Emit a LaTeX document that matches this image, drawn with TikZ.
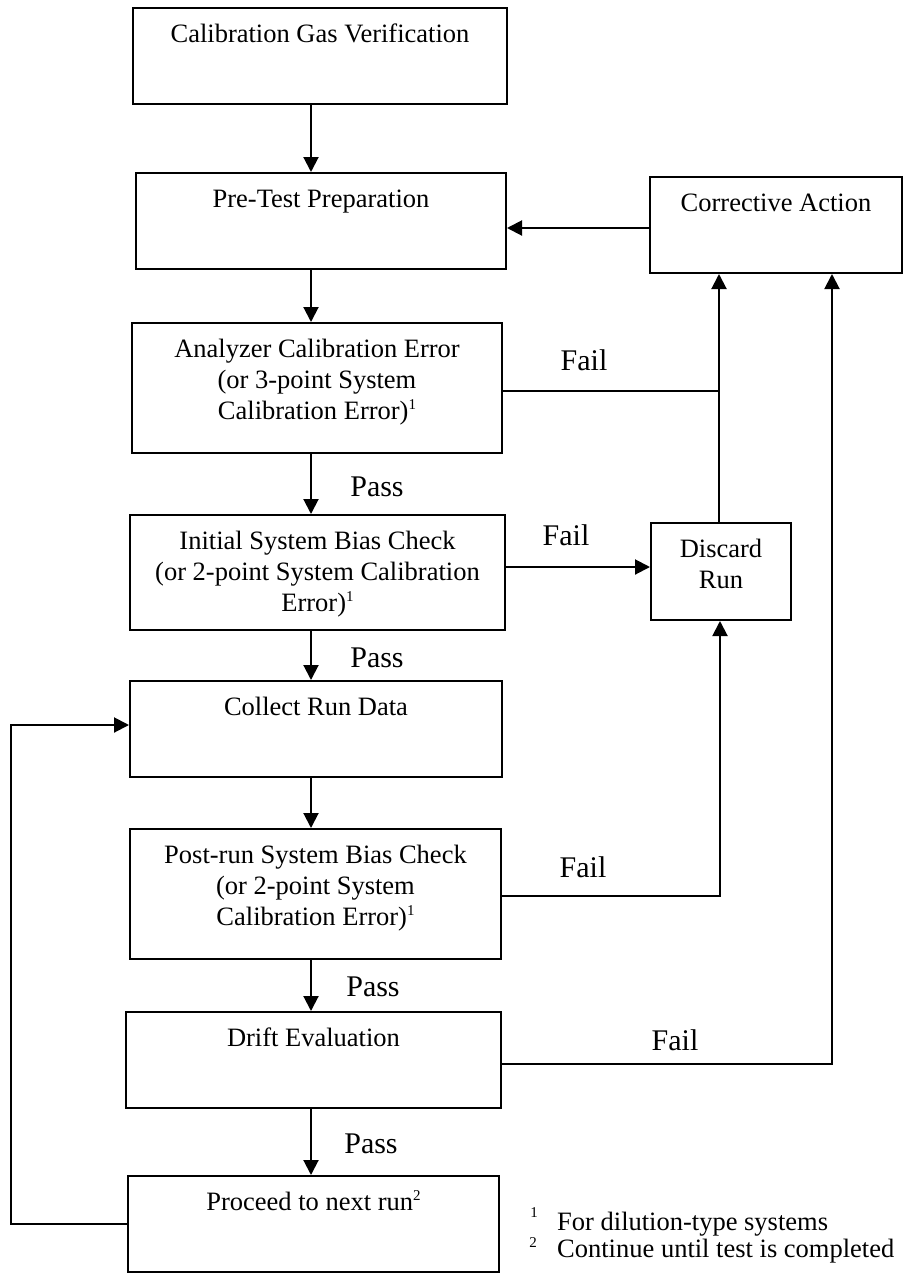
\documentclass[tikz,border=0pt]{standalone}
\usepackage{fontspec}
\setmainfont{Liberation Serif}
\usetikzlibrary{arrows.meta}
\newcommand{\bxt}[3]{\begin{minipage}[t][#2][t]{#1}\centering\rule{0pt}{34pt}#3\end{minipage}}
\newcommand{\supn}[1]{\raisebox{10pt}{\fontsize{15}{15}\selectfont #1}}
\begin{document}
\begin{tikzpicture}[x=1pt,y={(0pt,-1pt)},
  box/.style={draw, line width=2pt, inner sep=0pt, rectangle, font=\fontsize{26.5}{31}\selectfont},
  conn/.style={line width=2pt},
  arr/.style={conn, -{Triangle[length=15pt,width=15pt]}},
  lab/.style={font=\fontsize{30}{36}\selectfont, inner sep=0pt},
  note/.style={font=\fontsize{26.5}{31}\selectfont, inner sep=0pt, anchor=base west},
  fnum/.style={font=\fontsize{15}{18}\selectfont, inner sep=0pt, anchor=base}]
\useasboundingbox (0,0) rectangle (904,1275);

% boxes
\node[box] (gas)   at (320,56)     {\bxt{374pt}{96pt}{Calibration Gas Verification}};
\node[box] (pre)   at (321,221)    {\bxt{370pt}{96pt}{Pre-Test Preparation}};
\node[box] (corr)  at (776,225)    {\bxt{252pt}{96pt}{Corrective Action}};
\node[box] (ana)   at (317,388)    {\bxt{370pt}{130pt}{Analyzer Calibration Error\\(or 3-point System\\Calibration Error)\supn{1}}};
\node[box] (init)  at (317.5,572.5){\bxt{375pt}{115pt}{Initial System Bias Check\\(or 2-point System Calibration\\Error)\supn{1}}};
\node[box] (disc)  at (721,571.5)  {\bxt{140pt}{97pt}{Discard\\Run}};
\node[box] (coll)  at (316,729)    {\bxt{372pt}{96pt}{Collect Run Data}};
\node[box] (post)  at (315.5,894)  {\bxt{371pt}{130pt}{Post-run System Bias Check\\(or 2-point System\\Calibration Error)\supn{1}}};
\node[box] (drift) at (313.5,1060) {\bxt{375pt}{96pt}{Drift Evaluation}};
\node[box] (proc)  at (313.5,1224) {\bxt{371pt}{96pt}{Proceed to next run\supn{2}}};

% helper coordinates
\coordinate (ax) at (311,0);
\coordinate (ca) at (0,228);
\coordinate (j1) at (719,0);
\coordinate (fa) at (0,391);
\coordinate (fi) at (0,567);
\coordinate (j2) at (720,896);
\coordinate (j3) at (832,1064);
\coordinate (l1) at (11,1224);
\coordinate (l2) at (11,725);

% main flow
\draw[arr] (gas.south -| ax) -- (pre.north -| ax);
\draw[arr] (pre.south -| ax) -- (ana.north -| ax);
\draw[arr] (ana.south -| ax) -- (init.north -| ax);
\draw[arr] (init.south -| ax) -- (coll.north -| ax);
\draw[arr] (coll.south -| ax) -- (post.north -| ax);
\draw[arr] (post.south -| ax) -- (drift.north -| ax);
\draw[arr] (drift.south -| ax) -- (proc.north -| ax);

% side connectors
\draw[arr] (corr.west |- ca) -- (pre.east |- ca);
\draw[arr] (disc.north -| j1) -- (corr.south -| j1);
\draw[conn] (ana.east |- fa) -- (j1 |- fa);
\draw[arr] (init.east |- fi) -- (disc.west |- fi);
\draw[arr] (post.east |- j2) -- (j2) -- (disc.south -| j2);
\draw[arr] (drift.east |- j3) -- (j3) -- (corr.south -| j3);
\draw[arr] (proc.west |- l1) -- (l1) -- (l2) -- (coll.west |- l2);

% labels
\node[lab] (fail1) at (584,360) {Fail};
\node[lab] (fail2) at (566,535) {Fail};
\node[lab] (fail3) at (583,867) {Fail};
\node[lab] (fail4) at (675,1040) {Fail};
\node[lab] (pass1) at (377,487) {Pass};
\node[lab] (pass2) at (377,658) {Pass};
\node[lab] (pass3) at (373,987) {Pass};
\node[lab] (pass4) at (371,1144) {Pass};

% footnotes
\node[fnum] (n1) at (534,1217) {1};
\node[note] (t1) at (557,1230) {For dilution-type systems};
\node[fnum] (n2) at (533,1247) {2};
\node[note] (t2) at (557,1257) {Continue until test is completed};
\end{tikzpicture}
\end{document}
